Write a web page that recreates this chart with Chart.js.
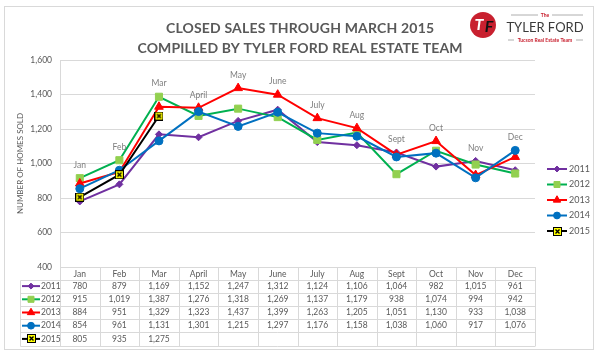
<!DOCTYPE html>
<html lang="en">
<head>
<meta charset="UTF-8">
<title>Closed Sales Through March 2015</title>
<script src="https://cdn.jsdelivr.net/npm/chart.js"></script>
<style>
  html, body { margin: 0; padding: 0; background: #fff; }
</style>
</head>
<body>
<canvas id="salesChart" width="600" height="354"></canvas>
<script>
// chart data
const months = ['Jan', 'Feb', 'Mar', 'April', 'May', 'June', 'July', 'Aug', 'Sept', 'Oct', 'Nov', 'Dec'];
const years = ['2011', '2012', '2013', '2014', '2015'];
const sales2011 = [780, 879, 1169, 1152, 1247, 1312, 1124, 1106, 1064, 982, 1015, 961];
const sales2012 = [915, 1019, 1387, 1276, 1318, 1269, 1137, 1179, 938, 1074, 994, 942];
const sales2013 = [884, 951, 1329, 1323, 1437, 1399, 1263, 1205, 1051, 1130, 933, 1038];
const sales2014 = [854, 961, 1131, 1301, 1215, 1297, 1176, 1158, 1038, 1060, 917, 1076];
const sales2015 = [805, 935, 1275];
const yMin = 400, yMax = 1600, yStep = 200;
const titleLines = ['CLOSED SALES THROUGH MARCH 2015', 'COMPILLED BY TYLER FORD REAL ESTATE TEAM'];
const yTitle = 'NUMBER OF HOMES SOLD';

const FONT = 'Lato, "Open Sans", sans-serif';
const TEXT = '#595959';
const GRID = '#d9d9d9';

// yellow box with a cross, used for the 2015 markers
function makeCrossMarker() {
    const c = document.createElement('canvas');
    c.width = 9; c.height = 9;
    const g = c.getContext('2d');
    g.fillStyle = '#ffff00';
    g.fillRect(0, 0, 9, 9);
    g.strokeStyle = '#000';
    g.lineWidth = 1;
    g.strokeRect(0.5, 0.5, 8, 8);
    g.beginPath();
    g.moveTo(2.5, 2.5); g.lineTo(6.5, 6.5);
    g.moveTo(6.5, 2.5); g.lineTo(2.5, 6.5);
    g.lineWidth = 1.4;
    g.stroke();
    return c;
}
const crossMarker = makeCrossMarker();

const seriesStyle = [
    { line: '#7030a0', fill: '#7030a0', point: 'rectRot', radius: 3.5 },
    { line: '#00b050', fill: '#92d050', point: 'rect', radius: 5 },
    { line: '#ff0000', fill: '#ff0000', point: 'triangle', radius: 5 },
    { line: '#0070c0', fill: '#0070c0', point: 'circle', radius: 4 },
    { line: '#000000', fill: '#ffff00', point: crossMarker, radius: 4 }
];
const allSales = [sales2011, sales2012, sales2013, sales2014, sales2015];

const datasets = years.map((y, i) => ({
    label: y,
    data: allSales[i],
    borderColor: seriesStyle[i].line,
    backgroundColor: seriesStyle[i].fill,
    pointBackgroundColor: seriesStyle[i].fill,
    pointBorderColor: seriesStyle[i].fill,
    pointStyle: seriesStyle[i].point,
    pointRadius: seriesStyle[i].radius,
    pointBorderWidth: 1,
    borderWidth: 2,
    tension: 0,
    order: years.length - i
}));

function drawKey(ctx, i, x1, x2, y) {
    const s = seriesStyle[i];
    ctx.save();
    ctx.strokeStyle = s.line;
    ctx.lineWidth = 2;
    ctx.beginPath();
    ctx.moveTo(x1, y); ctx.lineTo(x2, y);
    ctx.stroke();
    ctx.fillStyle = s.fill;
    ctx.strokeStyle = s.fill;
    ctx.lineWidth = 1;
    const cx = (x1 + x2) / 2;
    if (typeof s.point === 'string') {
        Chart.helpers.drawPoint(ctx, { pointStyle: s.point, radius: s.radius * 0.85, rotation: 0, borderWidth: 1 }, cx, y);
    } else {
        ctx.drawImage(s.point, Math.round(cx - 4.5), Math.round(y - 4.5));
    }
    ctx.restore();
}

// frame, title and logo
const decorPlugin = {
    id: 'decor',
    beforeDraw(chart) {
        const ctx = chart.ctx;
        ctx.save();
        ctx.fillStyle = '#fff';
        ctx.fillRect(0, 0, chart.width, chart.height);
        ctx.strokeStyle = GRID;
        ctx.lineWidth = 1;
        ctx.strokeRect(4.5, 6.5, 589, 343);
        ctx.restore();
    },
    afterDraw(chart) {
        const ctx = chart.ctx;
        ctx.save();
        // title
        ctx.fillStyle = TEXT;
        ctx.textAlign = 'center';
        ctx.textBaseline = 'middle';
        ctx.font = 'bold 14px ' + FONT;
        const targets = [268, 325];
        const ys = [28, 48];
        titleLines.forEach((t, i) => {
            ctx.letterSpacing = '0px';
            const w = ctx.measureText(t).width;
            const sp = (targets[i] - w) / (t.length - 1);
            ctx.letterSpacing = sp.toFixed(2) + 'px';
            ctx.fillText(t, 300 + sp / 2, ys[i]);
        });
        ctx.letterSpacing = '0px';

        // logo
        ctx.fillStyle = '#c8202f';
        ctx.beginPath();
        ctx.arc(483, 25, 13, 0, Math.PI * 2);
        ctx.fill();
        ctx.font = 'italic bold 16px ' + FONT;
        ctx.fillStyle = '#fff';
        ctx.fillText('T', 479, 25);
        ctx.fillStyle = '#111';
        ctx.fillText('F', 489, 27);
        ctx.fillStyle = '#c8202f';
        ctx.font = 'bold 5px ' + FONT;
        ctx.fillText('The', 545, 15);
        ctx.fillText('Tucson Real Estate Team', 545, 40);
        ctx.strokeStyle = '#9a9a9a';
        ctx.lineWidth = 0.8;
        ctx.beginPath();
        ctx.moveTo(511, 15); ctx.lineTo(538, 15);
        ctx.moveTo(552, 15); ctx.lineTo(583, 15);
        ctx.moveTo(508, 40); ctx.lineTo(514, 40);
        ctx.moveTo(576, 40); ctx.lineTo(583, 40);
        ctx.stroke();
        ctx.fillStyle = '#3a3a3a';
        ctx.font = '13px ' + FONT;
        ctx.fillText('TYLER FORD', 545, 28);
        ctx.restore();
    }
};

// month names above the highest point of each month
const monthLabelPlugin = {
    id: 'monthLabels',
    afterDatasetsDraw(chart) {
        const ctx = chart.ctx;
        const xs = chart.scales.x, ys = chart.scales.y;
        ctx.save();
        ctx.fillStyle = '#7f7f7f';
        ctx.font = '8.5px ' + FONT;
        ctx.textAlign = 'center';
        ctx.textBaseline = 'middle';
        months.forEach((m, i) => {
            const vals = allSales.map(a => a[i]).filter(v => v !== undefined);
            const top = Math.max(...vals);
            ctx.fillText(m, xs.getPixelForValue(i), ys.getPixelForValue(top) - 13);
        });
        ctx.restore();
    }
};

// data table under the plot and legend on the right
const tablePlugin = {
    id: 'dataTable',
    afterDraw(chart) {
        const ctx = chart.ctx;
        const ca = chart.chartArea;
        const xs = chart.scales.x;
        const step = (ca.right - ca.left) / months.length;
        const headTop = ca.bottom;
        const headBottom = headTop + 12.5;
        const rowH = 13.2;
        const bottom = headBottom + rowH * years.length;
        const leftEdge = 20.5;
        ctx.save();
        ctx.strokeStyle = GRID;
        ctx.lineWidth = 1;
        ctx.beginPath();
        for (let r = 0; r <= years.length; r++) {
            const y = Math.round(headBottom + r * rowH) + 0.5;
            ctx.moveTo(leftEdge, y); ctx.lineTo(ca.right, y);
        }
        ctx.moveTo(leftEdge, Math.round(headBottom) + 0.5);
        ctx.lineTo(leftEdge, Math.round(bottom) + 0.5);
        for (let c = 0; c <= months.length; c++) {
            const x = Math.round(ca.left + c * step) + 0.5;
            ctx.moveTo(x, headTop); ctx.lineTo(x, Math.round(bottom) + 0.5);
        }
        ctx.stroke();

        ctx.font = '8.5px ' + FONT;
        ctx.textBaseline = 'middle';
        years.forEach((yr, r) => {
            const cy = headBottom + r * rowH + rowH / 2;
            drawKey(ctx, r, 22, 40, cy);
            ctx.fillStyle = TEXT;
            ctx.textAlign = 'left';
            ctx.fillText(yr, 41, cy);
            ctx.textAlign = 'center';
            allSales[r].forEach((v, c) => {
                ctx.fillText(v.toLocaleString('en-US'), xs.getPixelForValue(c), cy);
            });
        });

        // legend
        ctx.font = '9px ' + FONT;
        ctx.textAlign = 'left';
        years.forEach((yr, r) => {
            const ly = 169 + r * 15.5;
            drawKey(ctx, r, 547, 567, ly);
            ctx.fillStyle = TEXT;
            ctx.fillText(yr, 569, ly);
        });
        ctx.restore();
    }
};

const ctx = document.getElementById('salesChart').getContext('2d');
new Chart(ctx, {
    type: 'line',
    data: { labels: months, datasets: datasets },
    plugins: [decorPlugin, monthLabelPlugin, tablePlugin],
    options: {
        responsive: false,
        animation: false,
        layout: { padding: { left: 10, right: 65, top: 60, bottom: 74 } },
        plugins: {
            legend: { display: false },
            tooltip: { enabled: false },
            title: { display: false }
        },
        scales: {
            x: {
                type: 'category',
                offset: true,
                grid: { display: false, drawTicks: false },
                border: { display: true, color: GRID },
                ticks: {
                    color: TEXT,
                    font: { family: FONT, size: 8.5 },
                    padding: 2,
                    maxRotation: 0,
                    autoSkip: false
                },
                afterFit: s => { s.height = 13; }
            },
            y: {
                min: yMin,
                max: yMax,
                grid: { color: GRID, drawTicks: false },
                border: { display: true, color: GRID },
                ticks: {
                    stepSize: yStep,
                    color: TEXT,
                    padding: 8,
                    font: { family: FONT, size: 8.5 }
                },
                title: {
                    display: true,
                    text: yTitle,
                    color: TEXT,
                    font: { family: FONT, size: 8 },
                    padding: { top: 6, bottom: 0 }
                },
                afterFit: s => { s.width = 50; }
            }
        }
    }
});
</script>
</body>
</html>
